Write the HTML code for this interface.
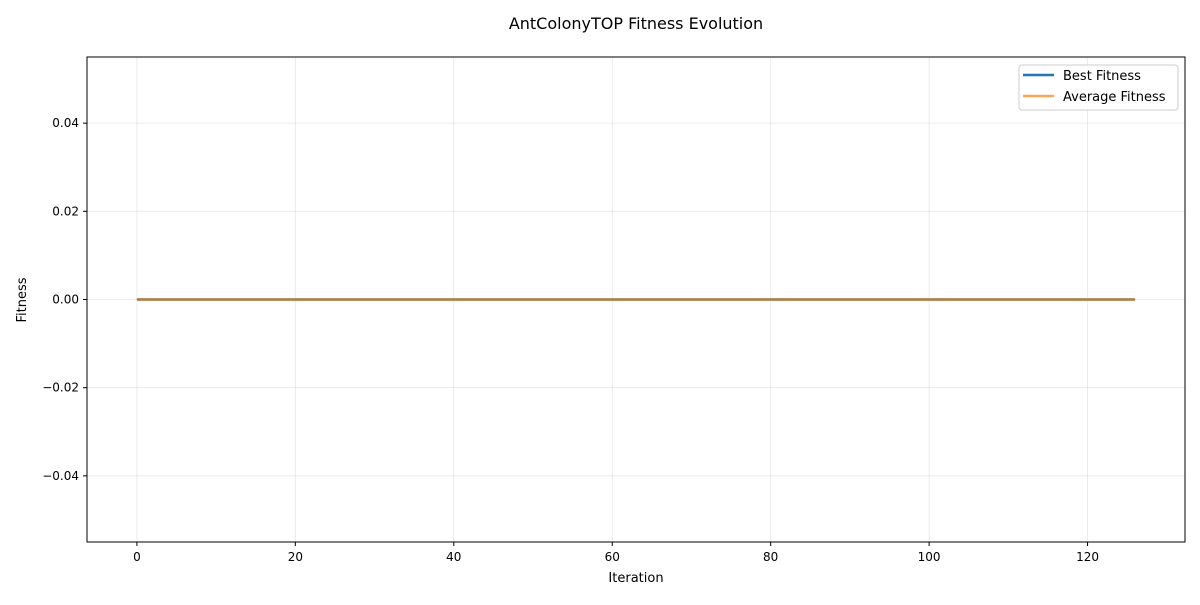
<!DOCTYPE html>
<html><head><meta charset="utf-8"><style>
body{margin:0;background:#fff;}
svg text{font-family:"DejaVu Sans","Liberation Sans",sans-serif;}
</style></head><body>
<svg id="c" width="1200" height="600" xmlns="http://www.w3.org/2000/svg">
<rect width="1200" height="600" fill="#fff"/>
<text x="636" y="29" font-size="16" text-anchor="middle">AntColonyTOP Fitness Evolution</text>
<g id="grid"></g>
<g id="series"></g>
<rect x="87" y="57" width="1098" height="485" fill="none" stroke="#000" stroke-width="1"/>
<g id="axes"></g>
<text x="636" y="582" font-size="13" text-anchor="middle">Iteration</text>
<text transform="translate(26,300) rotate(-90)" font-size="13" text-anchor="middle">Fitness</text>
<g>
<rect x="1019" y="65" width="159" height="45" rx="3" fill="#fff" fill-opacity="0.8" stroke="#ccc"/>
<line x1="1023" y1="75" x2="1054" y2="75" stroke="#1f77b4" stroke-width="2.5"/>
<text x="1063" y="80" font-size="13">Best Fitness</text>
<line x1="1023" y1="96" x2="1054" y2="96" stroke="#ff7f0e" stroke-opacity="0.7" stroke-width="2.5"/>
<text x="1063" y="101" font-size="13">Average Fitness</text>
</g>
</svg>
<script>
const xTicks=[0,20,40,60,80,100,120];
const yTicks=[-0.04,-0.02,0,0.02,0.04];
const yTickLabels=["\u22120.04","\u22120.02","0.00","0.02","0.04"];
const bestFitness=new Array(127).fill(0);
const avgFitness=new Array(127).fill(0);
const NS="http://www.w3.org/2000/svg";
const L=87,R=1185,T=57,B=542;
const xMin=-6.3,xMax=132.3,yMin=-0.055,yMax=0.055;
const xs=v=>L+(v-xMin)/(xMax-xMin)*(R-L);
const ys=v=>B-(v-yMin)/(yMax-yMin)*(B-T);
function mk(tag,at,parent){const e=document.createElementNS(NS,tag);for(const k in at)e.setAttribute(k,at[k]);document.getElementById(parent).appendChild(e);return e;}
xTicks.forEach(t=>{
 const x=xs(t);
 const g=mk('line',{x1:x,x2:x,y1:T,y2:B,stroke:'#b0b0b0','stroke-opacity':0.3,'stroke-width':0.8},'grid');
 
 
 const tk=mk('line',{x1:x,x2:x,y1:B,y2:B+4,stroke:'#000'},'axes');
 
 
 const tx=mk('text',{x:x,y:B+19,'font-size':12,'text-anchor':'middle'},'axes');
 tx.textContent=t;
 
 
});
yTicks.forEach((t,i)=>{
 const y=ys(t);
 const g=mk('line',{x1:L,x2:R,y1:y,y2:y,stroke:'#b0b0b0','stroke-opacity':0.3,'stroke-width':0.8},'grid');
 
 
 const tk=mk('line',{x1:L-4,x2:L,y1:y,y2:y,stroke:'#000'},'axes');
 
 
 const tx=mk('text',{x:L-8,y:y+4,'font-size':12,'text-anchor':'end'},'axes');
 tx.textContent=yTickLabels[i];
 
 
});
function pts(arr){return arr.map((v,i)=>xs(i)+','+ys(v)).join(' ');}
const b=mk('polyline',{points:pts(bestFitness),fill:'none',stroke:'#1f77b4','stroke-width':2.5},'series');


const a=mk('polyline',{points:pts(avgFitness),fill:'none',stroke:'#ff7f0e','stroke-opacity':0.7,'stroke-width':2.5},'series');


</script>
</body></html>
